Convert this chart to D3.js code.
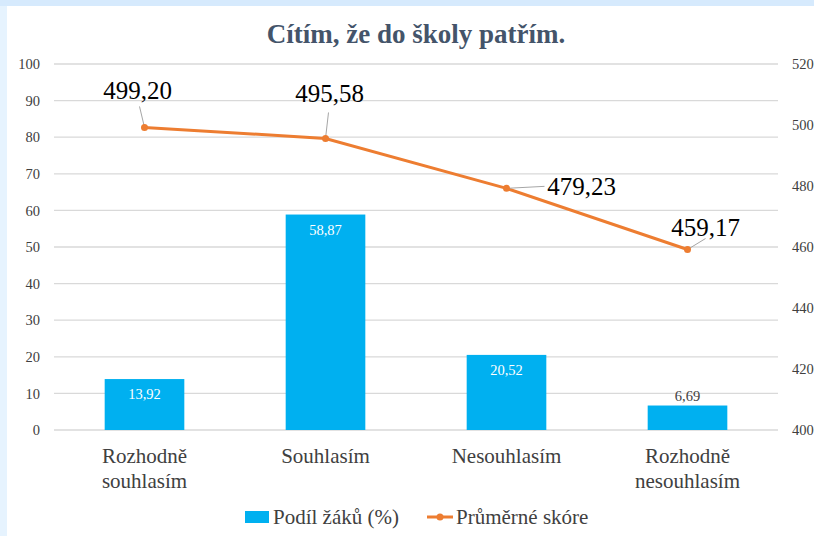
<!DOCTYPE html>
<html>
<head>
<meta charset="utf-8">
<script src="https://cdn.jsdelivr.net/npm/d3@7"></script>
<style>
  body { margin: 0; background: #dcedfd; }
  svg { display: block; }
</style>
</head>
<body>
<script>
const categories = ["Rozhodně souhlasím", "Souhlasím", "Nesouhlasím", "Rozhodně nesouhlasím"];
const categoryLines = [["Rozhodně", "souhlasím"], ["Souhlasím"], ["Nesouhlasím"], ["Rozhodně", "nesouhlasím"]];
const shares = [13.92, 58.87, 20.52, 6.69];
const scores = [499.20, 495.58, 479.23, 459.17];
const leftTicks = [0, 10, 20, 30, 40, 50, 60, 70, 80, 90, 100];
const rightTicks = [400, 420, 440, 460, 480, 500, 520];

const W = 814, H = 536;
const margin = { left: 54, right: 36, top: 64, bottom: 106 };
const fmt = (v) => v.toFixed(2).replace(".", ",");
const serif = '"Liberation Serif"';

const svg = d3.select("body").append("svg").attr("width", W).attr("height", H);

// panel background
svg.append("rect").attr("width", W).attr("height", H).attr("fill", "#e6f3fe");
svg.append("rect").attr("width", W).attr("height", 6).attr("fill", "#d6eafd");
svg.append("rect").attr("x", 7).attr("y", 6).attr("width", W - 7).attr("height", H - 6).attr("fill", "#fff");

const x = d3.scaleBand().domain(categories).range([margin.left, W - margin.right]).paddingInner(0.56).paddingOuter(0.28);
const yL = d3.scaleLinear().domain([0, 100]).range([H - margin.bottom, margin.top]);
const yR = d3.scaleLinear().domain([400, 520]).range([H - margin.bottom, margin.top]);

// gridlines
svg.append("g")
  .selectAll("line")
  .data(leftTicks)
  .join("line")
  .attr("x1", margin.left)
  .attr("x2", W - margin.right)
  .attr("y1", (d) => yL(d))
  .attr("y2", (d) => yL(d))
  .attr("stroke", "#d9d9d9")
  .attr("stroke-width", 1.3);

// left axis
svg.append("g")
  .attr("transform", `translate(${margin.left - 14},0)`)
  .call(d3.axisLeft(yL).tickValues(leftTicks).tickSize(0).tickPadding(0))
  .call((g) => g.select(".domain").remove())
  .selectAll("text")
  .style("font-family", serif)
  .style("font-size", "14.5px")
  .attr("fill", "#404040");

// right axis
svg.append("g")
  .attr("transform", `translate(${W - margin.right + 14},0)`)
  .call(d3.axisRight(yR).tickValues(rightTicks).tickSize(0).tickPadding(0))
  .call((g) => g.select(".domain").remove())
  .selectAll("text")
  .style("font-family", serif)
  .style("font-size", "14.5px")
  .attr("fill", "#404040");

// bars
svg.append("g")
  .selectAll("rect")
  .data(shares)
  .join("rect")
  .attr("x", (d, i) => x(categories[i]))
  .attr("y", (d) => yL(d))
  .attr("width", x.bandwidth())
  .attr("height", (d) => yL(0) - yL(d))
  .attr("fill", "#00b0f0");

// bar labels
svg.append("g")
  .selectAll("text")
  .data(shares)
  .join("text")
  .attr("x", (d, i) => x(categories[i]) + x.bandwidth() / 2)
  .attr("y", (d) => (d < 10 ? yL(d) - 5 : yL(d) + 20))
  .attr("text-anchor", "middle")
  .style("font-family", serif)
  .style("font-size", "14.5px")
  .attr("fill", (d) => (d < 10 ? "#404040" : "#fff"))
  .text(fmt);

// category labels
const cx = (i) => x(categories[i]) + x.bandwidth() / 2;
categoryLines.forEach((lines, i) => {
  const t = svg.append("text")
    .attr("x", cx(i))
    .attr("y", 463)
    .attr("text-anchor", "middle")
    .style("font-family", serif)
    .style("font-size", "21px")
    .attr("fill", "#404040");
  lines.forEach((l, j) => t.append("tspan").attr("x", cx(i)).attr("dy", j ? 25 : 0).text(l));
});

// line
const line = d3.line().x((d, i) => cx(i)).y((d) => yR(d));
svg.append("path")
  .datum(scores)
  .attr("d", line)
  .attr("fill", "none")
  .attr("stroke", "#ed7d31")
  .attr("stroke-width", 3);

// label positions relative to point (dx, dy of label anchor)
const labelOffsets = [[-7, -28], [4, -36], [75, 7], [18, -14]];
const leaderEnds = [[-5, -21], [3, -26], [38, -2], [18, -11]];
const g = svg.append("g");
scores.forEach((s, i) => {
  const px = cx(i), py = yR(s);
  g.append("line")
    .attr("x1", px).attr("y1", py)
    .attr("x2", px + leaderEnds[i][0]).attr("y2", py + leaderEnds[i][1])
    .attr("stroke", "#a6a6a6").attr("stroke-width", 1);
  g.append("text")
    .attr("x", px + labelOffsets[i][0])
    .attr("y", py + labelOffsets[i][1])
    .attr("text-anchor", "middle")
    .style("font-family", serif)
    .style("font-size", "25px")
    .attr("fill", "#000")
    .text(fmt(s));
});
g.selectAll("circle")
  .data(scores)
  .join("circle")
  .attr("cx", (d, i) => cx(i))
  .attr("cy", (d) => yR(d))
  .attr("r", 3.5)
  .attr("fill", "#ed7d31");

// title
svg.append("text")
  .attr("x", 416)
  .attr("y", 43)
  .attr("text-anchor", "middle")
  .style("font-family", serif)
  .style("font-size", "27px")
  .style("font-weight", "bold")
  .attr("fill", "#44546a")
  .text("Cítím, že do školy patřím.");

// legend
const leg = svg.append("g").attr("fill", "#404040");
leg.append("rect").attr("x", 245).attr("y", 511).attr("width", 24).attr("height", 12).attr("fill", "#00b0f0");
leg.append("text").attr("x", 273).attr("y", 524).style("font-family", serif).style("font-size", "21px").text("Podíl žáků (%)");
leg.append("line").attr("x1", 427).attr("x2", 453).attr("y1", 517).attr("y2", 517).attr("stroke", "#ed7d31").attr("stroke-width", 3);
leg.append("circle").attr("cx", 440).attr("cy", 517).attr("r", 3.5).attr("fill", "#ed7d31");
leg.append("text").attr("x", 456).attr("y", 524).style("font-family", serif).style("font-size", "21px").text("Průměrné skóre");
</script>
</body>
</html>
